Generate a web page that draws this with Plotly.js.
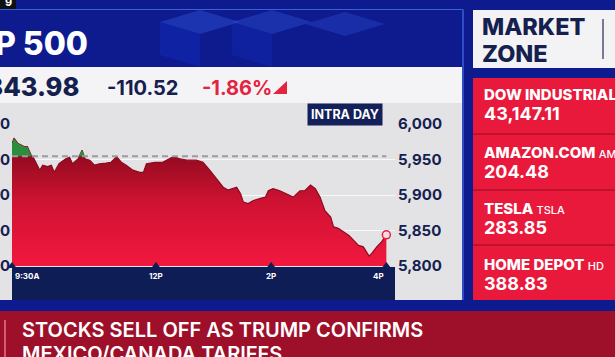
<!DOCTYPE html>
<html>
<head>
<meta charset="utf-8">
<script src="https://cdn.plot.ly/plotly-3.0.1.min.js"></script>
<style>
html,body{margin:0;padding:0;background:#0d1b8f;overflow:hidden;}
#chart{width:615px;height:357px;}
</style>
</head>
<body>
<div id="chart"></div>
<script>
// ---- data (minutes after 9:30 AM, S&P 500 index level) ----
const minutes = [0,2,6,13,16,20,23,29,32,37,41,44,49,56,60,63,69,73,76,81,86,91,98,103,109,114,119,126,133,137,140,149,157,168,175,182,192,199,206,213,220,225,231,234,238,241,246,251,258,264,267,272,279,286,293,300,305,311,316,321,326,332,335,340,345,351,356,361,366,372,375,380,385,390];
const levels = [5972,5980,5973,5968,5968,5956,5951,5935,5942,5940,5942,5932,5944,5951,5953,5944,5951,5963,5951,5949,5942,5944,5945,5946,5954,5946,5942,5935,5932,5932,5944,5946,5946,5954,5951,5949,5949,5946,5935,5923,5911,5907,5909,5911,5902,5890,5888,5892,5895,5897,5906,5909,5906,5902,5897,5906,5906,5914,5909,5897,5878,5869,5855,5853,5848,5843,5836,5829,5827,5814,5818,5827,5834,5843.98];
const prevClose = 5954.50;
const timeTickVals = [0,150,270,390];
const timeTickText = ['9:30A','12P','2P','4P'];
const priceTicks = [5800,5850,5900,5950,6000];
const indexName = 'S&P 500';
const lastPrice = '5,843.98';
const netChange = '-110.52';
const pctChange = '-1.86%';
const zoneNames = ['DOW INDUSTRIALS','AMAZON.COM','TESLA','HOME DEPOT'];
const zoneTickers = ['.DJI','AMZN','TSLA','HD'];
const zonePrices = ['43,147.11','204.48','283.85','388.83'];
const headline = ['STOCKS SELL OFF AS TRUMP CONFIRMS','MEXICO/CANADA TARIFFS'];

// ---- layout helpers (pixel -> paper) ----
const W = 615, H = 357;
const px = x => x / W;
const py = y => 1 - y / H;
const FONT = 'Inter, "Open Sans", sans-serif';
const NAVY = '#15204f';

function rect(x0,y0,x1,y1,fill,extra){
  return Object.assign({type:'rect',xref:'paper',yref:'paper',x0:px(x0),x1:px(x1),y0:py(y1),y1:py(y0),
    fillcolor:fill,line:{width:0},layer:'below'},extra||{});
}
function line(x0,y0,x1,y1,color,w){
  return {type:'line',xref:'paper',yref:'paper',x0:px(x0),x1:px(x1),y0:py(y0),y1:py(y1),line:{color:color,width:w},layer:'below'};
}
function txt(text,x,y,size,color,weight,xanchor,extra){
  return Object.assign({text:text,xref:'paper',yref:'paper',x:px(x),y:py(y),xanchor:xanchor||'left',yanchor:'middle',
    showarrow:false,font:{family:FONT,size:size,color:color,weight:weight||700}},extra||{});
}

const xMax = 399;
const yMin = 5800, yMax = 6000;

const traces = [
  { // red area
    x: minutes, y: levels, type:'scatter', mode:'lines', fill:'tozeroy',
    line:{color:'#8e0a1f',width:1.2},
    fillgradient:{type:'vertical',start:5800,stop:5965,colorscale:[[0,'#f2183e'],[0.55,'#cf1232'],[1,'#8a0a1d']]},
    hoverinfo:'skip', showlegend:false
  },
  { // baseline at previous close (for green fill)
    x: minutes, y: minutes.map(() => prevClose), type:'scatter', mode:'lines',
    line:{width:0}, hoverinfo:'skip', showlegend:false
  },
  { // green area above previous close
    x: minutes, y: levels.map(v => Math.max(v, prevClose)), type:'scatter', mode:'lines', fill:'tonexty',
    fillcolor:'#2e8c3e', line:{width:0}, hoverinfo:'skip', showlegend:false
  },
  { // previous close dashed line
    x:[minutes[0], minutes[minutes.length-1]], y:[prevClose, prevClose], type:'scatter', mode:'lines',
    line:{color:'#9a9aa0',width:2,dash:'6px,4px'}, hoverinfo:'skip', showlegend:false
  },
  { // tick notches on the time band
    x: timeTickVals, y: timeTickVals.map(() => yMin), type:'scatter', mode:'markers',
    marker:{symbol:'triangle-up',size:8,color:'#0f1d56'}, cliponaxis:false, hoverinfo:'skip', showlegend:false
  },
  { // last point marker
    x:[minutes[minutes.length-1]], y:[levels[levels.length-1]], type:'scatter', mode:'markers',
    marker:{symbol:'circle',size:8,color:'#f6dde1',line:{color:'#e3233f',width:1.5}},
    cliponaxis:false, hoverinfo:'skip', showlegend:false
  },
  { // invisible trace to activate left axis
    x:[0], y:[yMin], yaxis:'y2', type:'scatter', mode:'markers', marker:{opacity:0}, hoverinfo:'skip', showlegend:false
  }
];

const shapes = [
  rect(0,0,16,9,'#111111'),
  rect(0,67,462,103,'#f4f4f6'),
  rect(0,103,462,300,'#e3e3e6'),
  line(0,9.5,463,9.5,'#3a5fd6',1.2),
  line(463,9.5,463,300,'#3a5fd6',1.5),
  rect(12,267,395,300,'#0f1d56'),
  rect(473,10,615,68,'#f3f3f5'),
  line(603,19,603,59,'#4d5275',1.5),
  rect(473,78,615,300,'#e9193c'),
  line(473,134,615,134,'#b0102b',1.5),
  line(473,190,615,190,'#b0102b',1.5),
  line(473,245,615,245,'#b0102b',1.5),
  rect(0,311,615,357,'#9e1029'),
  line(5,320,5,357,'#e8758a',1.5),
  {type:'path',xref:'paper',yref:'paper',layer:'above',
   path:`M ${px(273)},${py(94)} L ${px(287)},${py(94)} L ${px(287)},${py(81)} Z`,
   fillcolor:'#e3233f',line:{width:0}},
  // faint cube motif in header background
  {type:'path',xref:'paper',yref:'paper',layer:'below',
   path:`M ${px(160)},${py(22)} L ${px(200)},${py(10)} L ${px(240)},${py(22)} L ${px(200)},${py(34)} Z`,
   fillcolor:'rgba(60,100,240,0.35)',line:{width:0}},
  {type:'path',xref:'paper',yref:'paper',layer:'below',
   path:`M ${px(232)},${py(22)} L ${px(272)},${py(10)} L ${px(312)},${py(22)} L ${px(272)},${py(34)} Z`,
   fillcolor:'rgba(60,100,240,0.3)',line:{width:0}},
  {type:'path',xref:'paper',yref:'paper',layer:'below',
   path:`M ${px(305)},${py(24)} L ${px(345)},${py(12)} L ${px(385)},${py(24)} L ${px(345)},${py(36)} Z`,
   fillcolor:'rgba(60,100,240,0.25)',line:{width:0}},
  {type:'path',xref:'paper',yref:'paper',layer:'below',
   path:`M ${px(160)},${py(22)} L ${px(200)},${py(34)} L ${px(200)},${py(67)} L ${px(160)},${py(55)} Z`,
   fillcolor:'rgba(20,50,200,0.35)',line:{width:0}},
  {type:'path',xref:'paper',yref:'paper',layer:'below',
   path:`M ${px(232)},${py(22)} L ${px(272)},${py(34)} L ${px(272)},${py(67)} L ${px(232)},${py(55)} Z`,
   fillcolor:'rgba(20,50,200,0.3)',line:{width:0}}
];

const annotations = [
  txt('9',3,2,11,'#ffffff',700,'left'),
  txt(indexName,90,43,32,'#ffffff',800,'right'),
  txt(lastPrice,81,86,25.5,NAVY,800,'right'),
  txt(netChange,105,88,20,NAVY,700,'left'),
  txt(pctChange,200,88,20,'#e3233f',700,'left'),
  txt('INTRA DAY',344.5,115,12.5,'#ffffff',700,'center',{bgcolor:'#14205a',borderpad:3}),
  txt('MARKET',480,42.5,23.5,NAVY,800,'left',{yanchor:'bottom'}),
  txt('ZONE',480,37.5,23.5,NAVY,800,'left',{yanchor:'top'}),
  txt(headline[0],20,330,20,'#ffffff',600,'left'),
  txt(headline[1],20,354,20,'#ffffff',600,'left')
];
const rowY = [95,152,208,264];
zoneNames.forEach((n,i) => {
  annotations.push(txt(n + ' <span style="font-size:11px;font-weight:500">' + zoneTickers[i] + '</span>',482,rowY[i],15,'#ffffff',800,'left'));
  annotations.push(txt(zonePrices[i],482,rowY[i]+19,18,'#ffffff',700,'left'));
});
timeTickVals.forEach((v,i) => {
  const anchor = i === 0 ? 'left' : (i === timeTickVals.length-1 ? 'right' : 'center');
  annotations.push({text:timeTickText[i],xref:'x',yref:'paper',x:v + (i===0?1:0),y:py(276),xanchor:anchor,yanchor:'middle',
    showarrow:false,font:{family:FONT,size:8,color:'#ffffff',weight:700}});
});

const layout = {
  width:W, height:H,
  margin:{l:0,r:0,t:0,b:0},
  paper_bgcolor:'#0d1b8f',
  plot_bgcolor:'rgba(0,0,0,0)',
  showlegend:false,
  xaxis:{domain:[px(12),px(395)],range:[0,xMax],showgrid:false,zeroline:false,showticklabels:false,ticks:'',showline:false,fixedrange:true},
  yaxis:{domain:[py(266),py(124)],range:[yMin,yMax],side:'right',anchor:'free',position:px(395),
    tickvals:priceTicks,tickformat:',d',ticks:'',ticklabelstandoff:2,
    showgrid:true,gridcolor:'rgba(255,255,255,0.75)',gridwidth:1,zeroline:false,showline:false,
    tickfont:{family:FONT,size:15,color:NAVY,weight:700},fixedrange:true},
  yaxis2:{domain:[py(266),py(124)],range:[yMin,yMax],side:'left',overlaying:'y',anchor:'free',position:px(12),
    tickvals:priceTicks,tickformat:',d',ticks:'',ticklabelstandoff:2,showgrid:false,zeroline:false,showline:false,
    tickfont:{family:FONT,size:15,color:NAVY,weight:700},fixedrange:true},
  shapes:shapes,
  annotations:annotations
};

Plotly.newPlot('chart', traces, layout, {displayModeBar:false, staticPlot:true});
</script>
</body>
</html>
